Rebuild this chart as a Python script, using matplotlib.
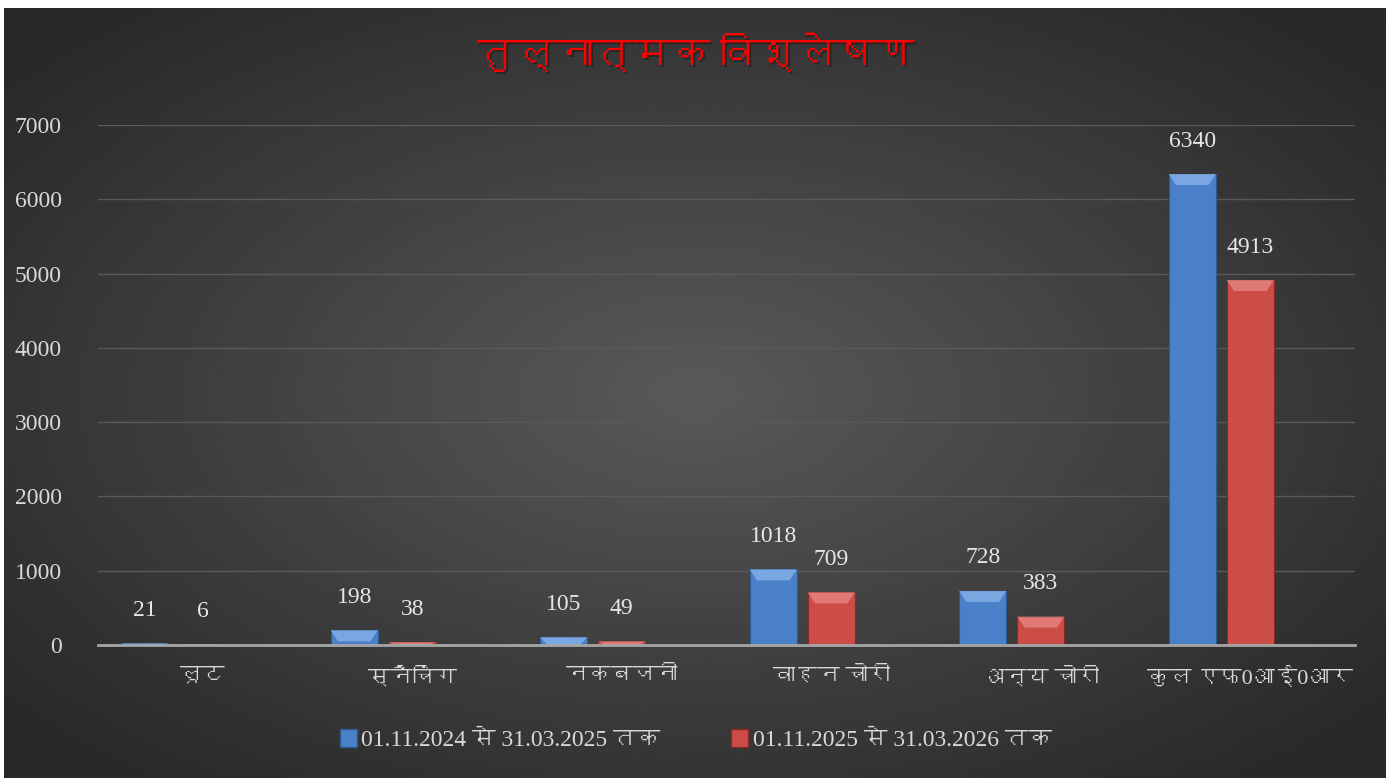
import numpy as np
import matplotlib
matplotlib.use("Agg")
import matplotlib.pyplot as plt
from matplotlib import font_manager
from matplotlib.ft2font import FT2Font
from matplotlib.patches import Polygon, Rectangle

categories = ["लूट", "स्नैचिंग", "नकबजनी", "वाहन चोरी", "अन्य चोरी", "कुल एफ0आई0आर"]
series_names = ["01.11.2024 से 31.03.2025 तक", "01.11.2025 से 31.03.2026 तक"]
values_2025 = [21, 198, 105, 1018, 728, 6340]
values_2026 = [6, 38, 49, 709, 383, 4913]
yticks = [0, 1000, 2000, 3000, 4000, 5000, 6000, 7000]
title = "तुल्नात्मक विश्लेषण"

# look for any installed font that actually has devanagari glyphs
deva = []
for f in font_manager.fontManager.ttflist:
    try:
        if 0x0915 in FT2Font(f.fname).get_charmap():
            if f.name not in deva:
                deva.append(f.name)
    except Exception:
        pass
fams = ["Liberation Serif"] + deva + ["DejaVu Sans"]
plt.rcParams["font.family"] = fams

W, H = 13.92, 7.78
fig = plt.figure(figsize=(W, H), dpi=100)
fig.patch.set_facecolor("white")

# radial dark background
bg = fig.add_axes([4 / 1392, 0, 1382 / 1392, 770 / 778])
yy, xx = np.mgrid[-1:1:300j, -1:1:500j]
r = np.sqrt(xx ** 2 + yy ** 2)
shade = 0.35 - 0.19 * np.clip(r / 1.3, 0, 1)
bg.imshow(shade, cmap="gray", vmin=0, vmax=1, aspect="auto", extent=[0, 1, 0, 1])
bg.set_axis_off()

ax = fig.add_axes([98 / 1392, 133 / 778, 1257 / 1392, 520 / 778])
ax.patch.set_alpha(0)
x = np.arange(len(categories))
bw = 0.225
off = 0.277
px_per_unit = 520 / 7000.0

blue = "#4a80c8"
red = "#cc4c48"
colors = [blue, red]
tops = ["#8fb9ee", "#ea8f8b"]
edges = ["#2c5a94", "#8a2a28"]

for k, vals in enumerate([values_2025, values_2026]):
    xs = x - off + k * off
    ax.bar(xs, vals, bw, color=colors[k], edgecolor=edges[k], linewidth=0.8, zorder=3)
    for xi, v in zip(xs, vals):
        # bevel on top of each bar
        bh = min(v, 11 / px_per_unit)
        ins = 0.035
        poly = Polygon([[xi - bw / 2, v], [xi + bw / 2, v],
                        [xi + bw / 2 - ins, v - bh], [xi - bw / 2 + ins, v - bh]],
                       closed=True, facecolor=tops[k], edgecolor="none", alpha=0.7, zorder=4)
        ax.add_patch(poly)
        ax.text(xi, v + 33 / px_per_unit, str(v), ha="center", va="center",
                fontsize=17, color="#e6e6e6", zorder=5)

ax.set_xlim(-0.5, len(categories) - 0.5)
ax.set_ylim(0, 7000)
ax.set_yticks(yticks)
ax.set_yticklabels([str(t) for t in yticks])
ax.set_xticks(x)
ax.set_xticklabels(categories)
ax.tick_params(axis="y", length=0, pad=26, labelsize=17, labelcolor="#d9d9d9")
ax.tick_params(axis="x", length=0, pad=16, labelsize=16, labelcolor="#d9d9d9")
ax.grid(axis="y", color="#5a5a5a", linewidth=1.0, zorder=0)
for s in ["top", "right", "left"]:
    ax.spines[s].set_visible(False)
ax.spines["bottom"].set_color("#a6a6a6")
ax.spines["bottom"].set_linewidth(2)
ax.spines["bottom"].set_zorder(6)

# legend
handles = [Rectangle((0, 0), 1, 1, facecolor=colors[k], edgecolor=edges[k]) for k in range(2)]
leg = fig.legend(handles, series_names, loc="center", bbox_to_anchor=(0.5, 38 / 778), ncol=2,
                 frameon=False, fontsize=17, handlelength=0.7, handleheight=0.8,
                 handletextpad=0.2, columnspacing=3.0, labelcolor="#d9d9d9")

# title with a soft shadow
fig.text(0.5 + 2 / 1392, 1 - 58 / 778, title, ha="center", va="center", fontsize=28,
         fontweight="bold", color="#1a1a1a", alpha=0.6)
fig.text(0.5, 1 - 56 / 778, title, ha="center", va="center", fontsize=28,
         fontweight="bold", color="#ff0000")

fig.savefig("out.png", dpi=100, facecolor=fig.get_facecolor())
